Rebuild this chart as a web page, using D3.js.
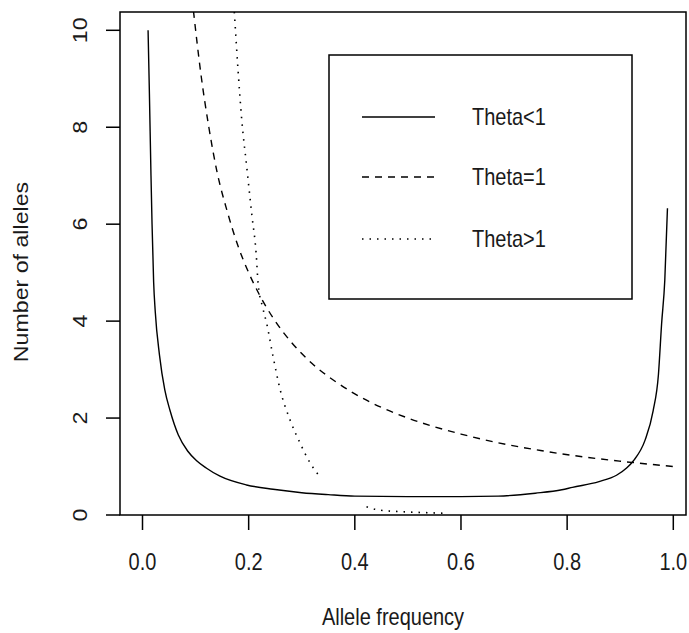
<!DOCTYPE html>
<html>
<head>
<meta charset="utf-8">
<script src="https://cdn.jsdelivr.net/npm/d3@7"></script>
<style>
  body { margin: 0; background: #fff; }
  svg text { font-family: "Liberation Sans", Arial, sans-serif; fill: #1a1a1a; }
</style>
</head>
<body>
<svg id="chart"></svg>
<script>
// values
var thetaLessX = [0.0105, 0.013, 0.016, 0.018, 0.021, 0.024, 0.032, 0.042, 0.052, 0.0675, 0.085, 0.102, 0.12, 0.146, 0.196, 0.246, 0.3, 0.35, 0.4, 0.5, 0.6, 0.67, 0.74, 0.79, 0.81, 0.86, 0.893, 0.912, 0.925, 0.947, 0.962, 0.972, 0.978, 0.984, 0.989];
var thetaLessY = [10.0, 8.7, 7.0, 6.0, 4.8, 4.2, 3.3, 2.58, 2.15, 1.65, 1.32, 1.12, 0.97, 0.8, 0.62, 0.53, 0.46, 0.42, 0.39, 0.38, 0.38, 0.39, 0.45, 0.52, 0.57, 0.69, 0.82, 0.97, 1.12, 1.55, 2.15, 2.9, 3.95, 4.85, 6.33];

var thetaOneX = [0.096, 0.11, 0.125, 0.14, 0.16, 0.18, 0.2, 0.22, 0.25, 0.28, 0.32, 0.36, 0.4, 0.45, 0.5, 0.55, 0.6, 0.67, 0.75, 0.83, 0.9, 1.0];
var thetaOneY = [10.4, 9.1, 8.0, 7.1, 6.25, 5.55, 5.0, 4.55, 4.0, 3.57, 3.12, 2.78, 2.5, 2.22, 2.0, 1.82, 1.67, 1.49, 1.33, 1.2, 1.11, 1.0];

// null marks the gap seen in the dotted curve
var thetaMoreX = [0.173, 0.180, 0.187, 0.196, 0.206, 0.214, 0.218, 0.226, 0.234, 0.246, 0.259, 0.278, 0.297, 0.316, 0.334, null, 0.422, 0.447, 0.485, 0.53, 0.57];
var thetaMoreY = [10.38, 9.18, 8.15, 7.22, 6.19, 5.41, 4.75, 4.3, 3.95, 3.27, 2.6, 1.96, 1.48, 1.07, 0.79, null, 0.17, 0.10, 0.07, 0.05, 0.035];

var xTicks = [0, 0.2, 0.4, 0.6, 0.8, 1.0];
var yTicks = [0, 2, 4, 6, 8, 10];
var legendLabels = ["Theta<1", "Theta=1", "Theta>1"];
var legendDash = ["none", "7,6", "1.5,6"];

var W = 689, H = 633;
var LEFT = 120, RIGHT = 686, TOP = 12, BOTTOM = 515;
var STRETCH = 1.16; // glyphs in the picture are taller than wide

var svg = d3.select("#chart").attr("width", W).attr("height", H);

var x = d3.scaleLinear().domain([0, 1]).range([142.5, 673.3]);
var y = d3.scaleLinear().domain([0, 10]).range([BOTTOM, 30.3]);

svg.append("clipPath").attr("id", "plot-clip")
    .append("rect")
    .attr("x", LEFT).attr("y", TOP)
    .attr("width", RIGHT - LEFT).attr("height", BOTTOM - TOP);

function zip(xs, ys) {
    return xs.map(function (d, i) { return [d, ys[i]]; });
}

var line = d3.line()
    .defined(function (d) { return d[0] != null && d[1] != null; })
    .x(function (d) { return x(d[0]); })
    .y(function (d) { return y(d[1]); })
    .curve(d3.curveMonotoneX);

var curves = svg.append("g").attr("clip-path", "url(#plot-clip)");

//draw the three curves
curves.append("path")
    .attr("d", line(zip(thetaLessX, thetaLessY)))
    .style("fill", "none").style("stroke", "#000").style("stroke-width", 1.4);
curves.append("path")
    .attr("d", line(zip(thetaOneX, thetaOneY)))
    .style("fill", "none").style("stroke", "#000").style("stroke-width", 1.4)
    .style("stroke-dasharray", legendDash[1]);
curves.append("path")
    .attr("d", line(zip(thetaMoreX, thetaMoreY)))
    .style("fill", "none").style("stroke", "#000").style("stroke-width", 1.6)
    .style("stroke-dasharray", legendDash[2]);

//draw box
svg.append("rect")
    .attr("x", LEFT).attr("y", TOP)
    .attr("width", RIGHT - LEFT).attr("height", BOTTOM - TOP)
    .style("fill", "none").style("stroke", "#000").style("stroke-width", 1.5);

//x axis ticks and labels
var xAxis = svg.append("g");
xAxis.selectAll("line").data(xTicks).enter().append("line")
    .attr("x1", function (d) { return x(d); }).attr("x2", function (d) { return x(d); })
    .attr("y1", BOTTOM).attr("y2", BOTTOM + 15)
    .style("stroke", "#000").style("stroke-width", 1.5);
xAxis.selectAll("text").data(xTicks).enter().append("text")
    .attr("transform", function (d) { return "translate(" + x(d) + "," + 570 + ") scale(1," + STRETCH + ")"; })
    .style("text-anchor", "middle")
    .style("font-size", "20px")
    .text(function (d) { return d3.format(".1f")(d); });

//y axis ticks and labels
var yAxis = svg.append("g");
yAxis.selectAll("line").data(yTicks).enter().append("line")
    .attr("x1", LEFT - 14).attr("x2", LEFT)
    .attr("y1", function (d) { return y(d); }).attr("y2", function (d) { return y(d); })
    .style("stroke", "#000").style("stroke-width", 1.5);
yAxis.selectAll("text").data(yTicks).enter().append("text")
    .attr("transform", function (d) { return "translate(87," + y(d) + ") scale(1," + STRETCH + ") rotate(-90)"; })
    .style("text-anchor", "middle")
    .style("font-size", "20px")
    .text(function (d) { return d; });

//axis titles
svg.append("text")
    .attr("transform", "translate(393,625) scale(1," + STRETCH + ")")
    .style("text-anchor", "middle")
    .style("font-size", "20px")
    .text("Allele frequency");
svg.append("text")
    .attr("transform", "translate(28,272) scale(1," + STRETCH + ") rotate(-90)")
    .style("text-anchor", "middle")
    .style("font-size", "20px")
    .text("Number of alleles");

//legend
var legend = svg.append("g");
legend.append("rect")
    .attr("x", 329).attr("y", 55)
    .attr("width", 303).attr("height", 244)
    .style("fill", "#fff").style("stroke", "#000").style("stroke-width", 1.5);
var rows = [117, 177, 239];
legendLabels.forEach(function (label, i) {
    legend.append("line")
        .attr("x1", 362).attr("x2", 435)
        .attr("y1", rows[i]).attr("y2", rows[i])
        .style("stroke", "#000").style("stroke-width", i == 2 ? 1.6 : 1.4)
        .style("stroke-dasharray", legendDash[i]);
    legend.append("text")
        .attr("transform", "translate(472," + (rows[i] + 8) + ") scale(1," + STRETCH + ")")
        .style("font-size", "20px")
        .text(label);
});
</script>
</body>
</html>
